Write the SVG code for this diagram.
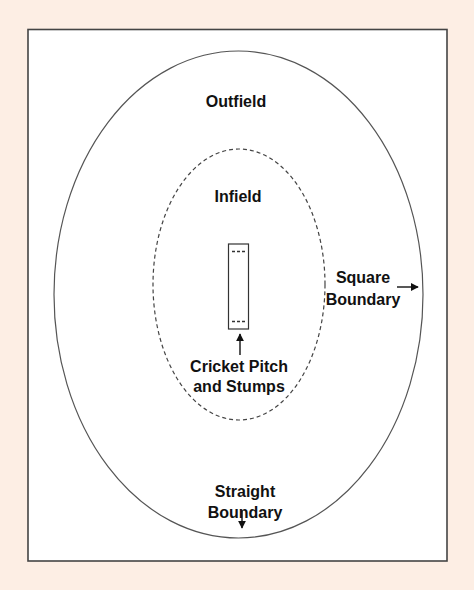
<svg xmlns="http://www.w3.org/2000/svg" width="474" height="590" viewBox="0 0 474 590">
<defs>
<marker id="ah" viewBox="0 0 10 10" refX="9" refY="5" markerWidth="8" markerHeight="8" markerUnits="userSpaceOnUse" orient="auto"><path d="M0,0 L10,5 L0,10 z" fill="#111"/></marker>
</defs>
<style>
.lbl{font-family:"Liberation Sans",Arial,sans-serif;font-size:16px;font-weight:bold;fill:#111;text-anchor:middle}
.conn{stroke:#111;stroke-width:1.4;fill:none;marker-end:url(#ah)}
.stump{stroke:#333;stroke-width:1.6;stroke-dasharray:3,2}
</style>
<rect x="0" y="0" width="474" height="590" fill="#fdeee4"/>
<rect x="28" y="29.5" width="419" height="531.5" fill="#fff" stroke="#444" stroke-width="1.6"/>
<g id="outfield">
<ellipse cx="238.5" cy="294.5" rx="184.5" ry="243.5" fill="none" stroke="#555" stroke-width="1.2"/>
<text class="lbl" x="236" y="107">Outfield</text>
</g>
<g id="infield">
<ellipse cx="239" cy="284.5" rx="86" ry="135.5" fill="none" stroke="#444" stroke-width="1.2" stroke-dasharray="4,3"/>
<text class="lbl" x="238" y="202">Infield</text>
</g>
<g id="pitch">
<rect x="228.5" y="244" width="20" height="85" fill="#fff" stroke="#333" stroke-width="1.2"/>
<line class="stump" x1="232" y1="251.5" x2="245" y2="251.5"/>
<line class="stump" x1="232" y1="321.5" x2="245" y2="321.5"/>
</g>
<g id="pitch-label">
<text class="lbl" x="239" y="372">Cricket Pitch</text>
<text class="lbl" x="239" y="392">and Stumps</text>
</g>
<g id="square-label">
<text class="lbl" x="363" y="283">Square</text>
<text class="lbl" x="363" y="305">Boundary</text>
</g>
<g id="straight-label">
<text class="lbl" x="245" y="497">Straight</text>
<text class="lbl" x="245" y="518">Boundary</text>
</g>
<g id="connectors">
<line class="conn" x1="240" y1="355" x2="240" y2="334"/>
<line class="conn" x1="397" y1="287" x2="418" y2="287"/>
<line class="conn" x1="242" y1="511" x2="242" y2="528"/>
</g>
</svg>
